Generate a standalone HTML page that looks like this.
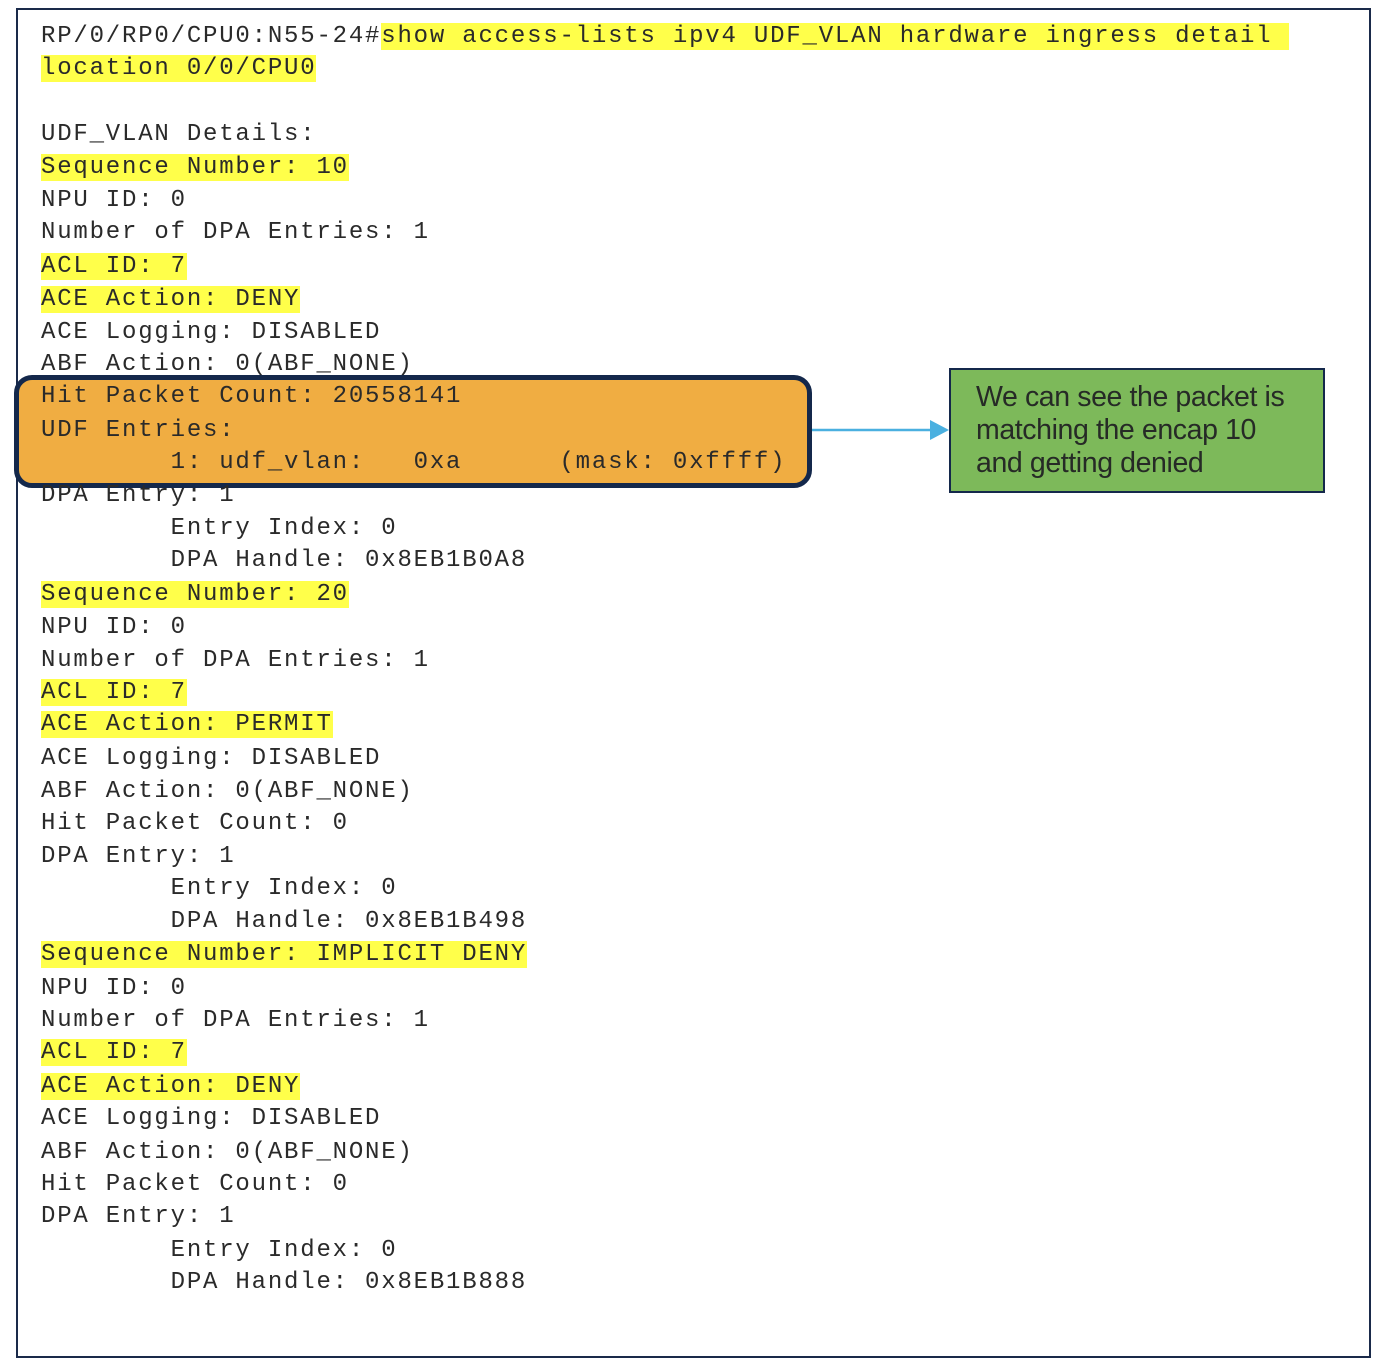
<!DOCTYPE html>
<html><head><meta charset="utf-8"><style>
html,body{margin:0;padding:0;background:#fff;width:1386px;height:1368px;overflow:hidden;position:relative}
.frame{position:absolute;left:16px;top:8px;width:1351px;height:1346px;border:2px solid #1a2a4a}
.obox{position:absolute;left:14px;top:375px;width:788px;height:103px;background:#f0ad42;border:5px solid #14284b;border-radius:18px}
.l{position:absolute;left:41px;white-space:pre;font-family:"Liberation Mono",monospace;font-size:24px;letter-spacing:1.8px;color:#2a2a2a;line-height:32px;height:32px;margin-top:2px}
.h{background:#ffff4a}
.g{position:absolute;left:949px;top:368px;width:376px;height:125px;background:#7db95a;border:2px solid #14284b;font-family:"Liberation Sans",sans-serif;font-size:28.5px;line-height:33px;color:#262a26;padding:11px 0 0 25px;box-sizing:border-box;letter-spacing:-0.4px}
</style></head><body>
<div class="frame"></div>
<div class="obox"></div>
<svg style="position:absolute;left:0;top:0" width="1386" height="1368"><line x1="812" y1="430" x2="934" y2="430" stroke="#4ab0e0" stroke-width="2.5"/><polygon points="949,430 930,420 930,440" fill="#4ab0e0"/></svg>
<div class="g">We can see the packet is<br>matching the encap 10<br>and getting denied</div>
<div class="l" style="top:19px">RP/0/RP0/CPU0:N55-24#<span class="h">show access-lists ipv4 UDF_VLAN hardware ingress detail </span></div>
<div class="l" style="top:51px"><span class="h">location 0/0/CPU0</span></div>
<div class="l" style="top:117px">UDF_VLAN Details:</div>
<div class="l" style="top:150px"><span class="h">Sequence Number: 10</span></div>
<div class="l" style="top:183px">NPU ID: 0</div>
<div class="l" style="top:215px">Number of DPA Entries: 1</div>
<div class="l" style="top:249px"><span class="h">ACL ID: 7</span></div>
<div class="l" style="top:282px"><span class="h">ACE Action: DENY</span></div>
<div class="l" style="top:315px">ACE Logging: DISABLED</div>
<div class="l" style="top:347px">ABF Action: 0(ABF_NONE)</div>
<div class="l" style="top:379px">Hit Packet Count: 20558141</div>
<div class="l" style="top:413px">UDF Entries:</div>
<div class="l" style="top:445px">        1: udf_vlan:   0xa      (mask: 0xffff)</div>
<div class="l" style="top:478px">DPA Entry: 1</div>
<div class="l" style="top:511px">        Entry Index: 0</div>
<div class="l" style="top:543px">        DPA Handle: 0x8EB1B0A8</div>
<div class="l" style="top:577px"><span class="h">Sequence Number: 20</span></div>
<div class="l" style="top:610px">NPU ID: 0</div>
<div class="l" style="top:643px">Number of DPA Entries: 1</div>
<div class="l" style="top:675px"><span class="h">ACL ID: 7</span></div>
<div class="l" style="top:707px"><span class="h">ACE Action: PERMIT</span></div>
<div class="l" style="top:741px">ACE Logging: DISABLED</div>
<div class="l" style="top:774px">ABF Action: 0(ABF_NONE)</div>
<div class="l" style="top:806px">Hit Packet Count: 0</div>
<div class="l" style="top:839px">DPA Entry: 1</div>
<div class="l" style="top:871px">        Entry Index: 0</div>
<div class="l" style="top:904px">        DPA Handle: 0x8EB1B498</div>
<div class="l" style="top:937px"><span class="h">Sequence Number: IMPLICIT DENY</span></div>
<div class="l" style="top:971px">NPU ID: 0</div>
<div class="l" style="top:1003px">Number of DPA Entries: 1</div>
<div class="l" style="top:1035px"><span class="h">ACL ID: 7</span></div>
<div class="l" style="top:1069px"><span class="h">ACE Action: DENY</span></div>
<div class="l" style="top:1101px">ACE Logging: DISABLED</div>
<div class="l" style="top:1135px">ABF Action: 0(ABF_NONE)</div>
<div class="l" style="top:1167px">Hit Packet Count: 0</div>
<div class="l" style="top:1199px">DPA Entry: 1</div>
<div class="l" style="top:1233px">        Entry Index: 0</div>
<div class="l" style="top:1265px">        DPA Handle: 0x8EB1B888</div>
</body></html>
